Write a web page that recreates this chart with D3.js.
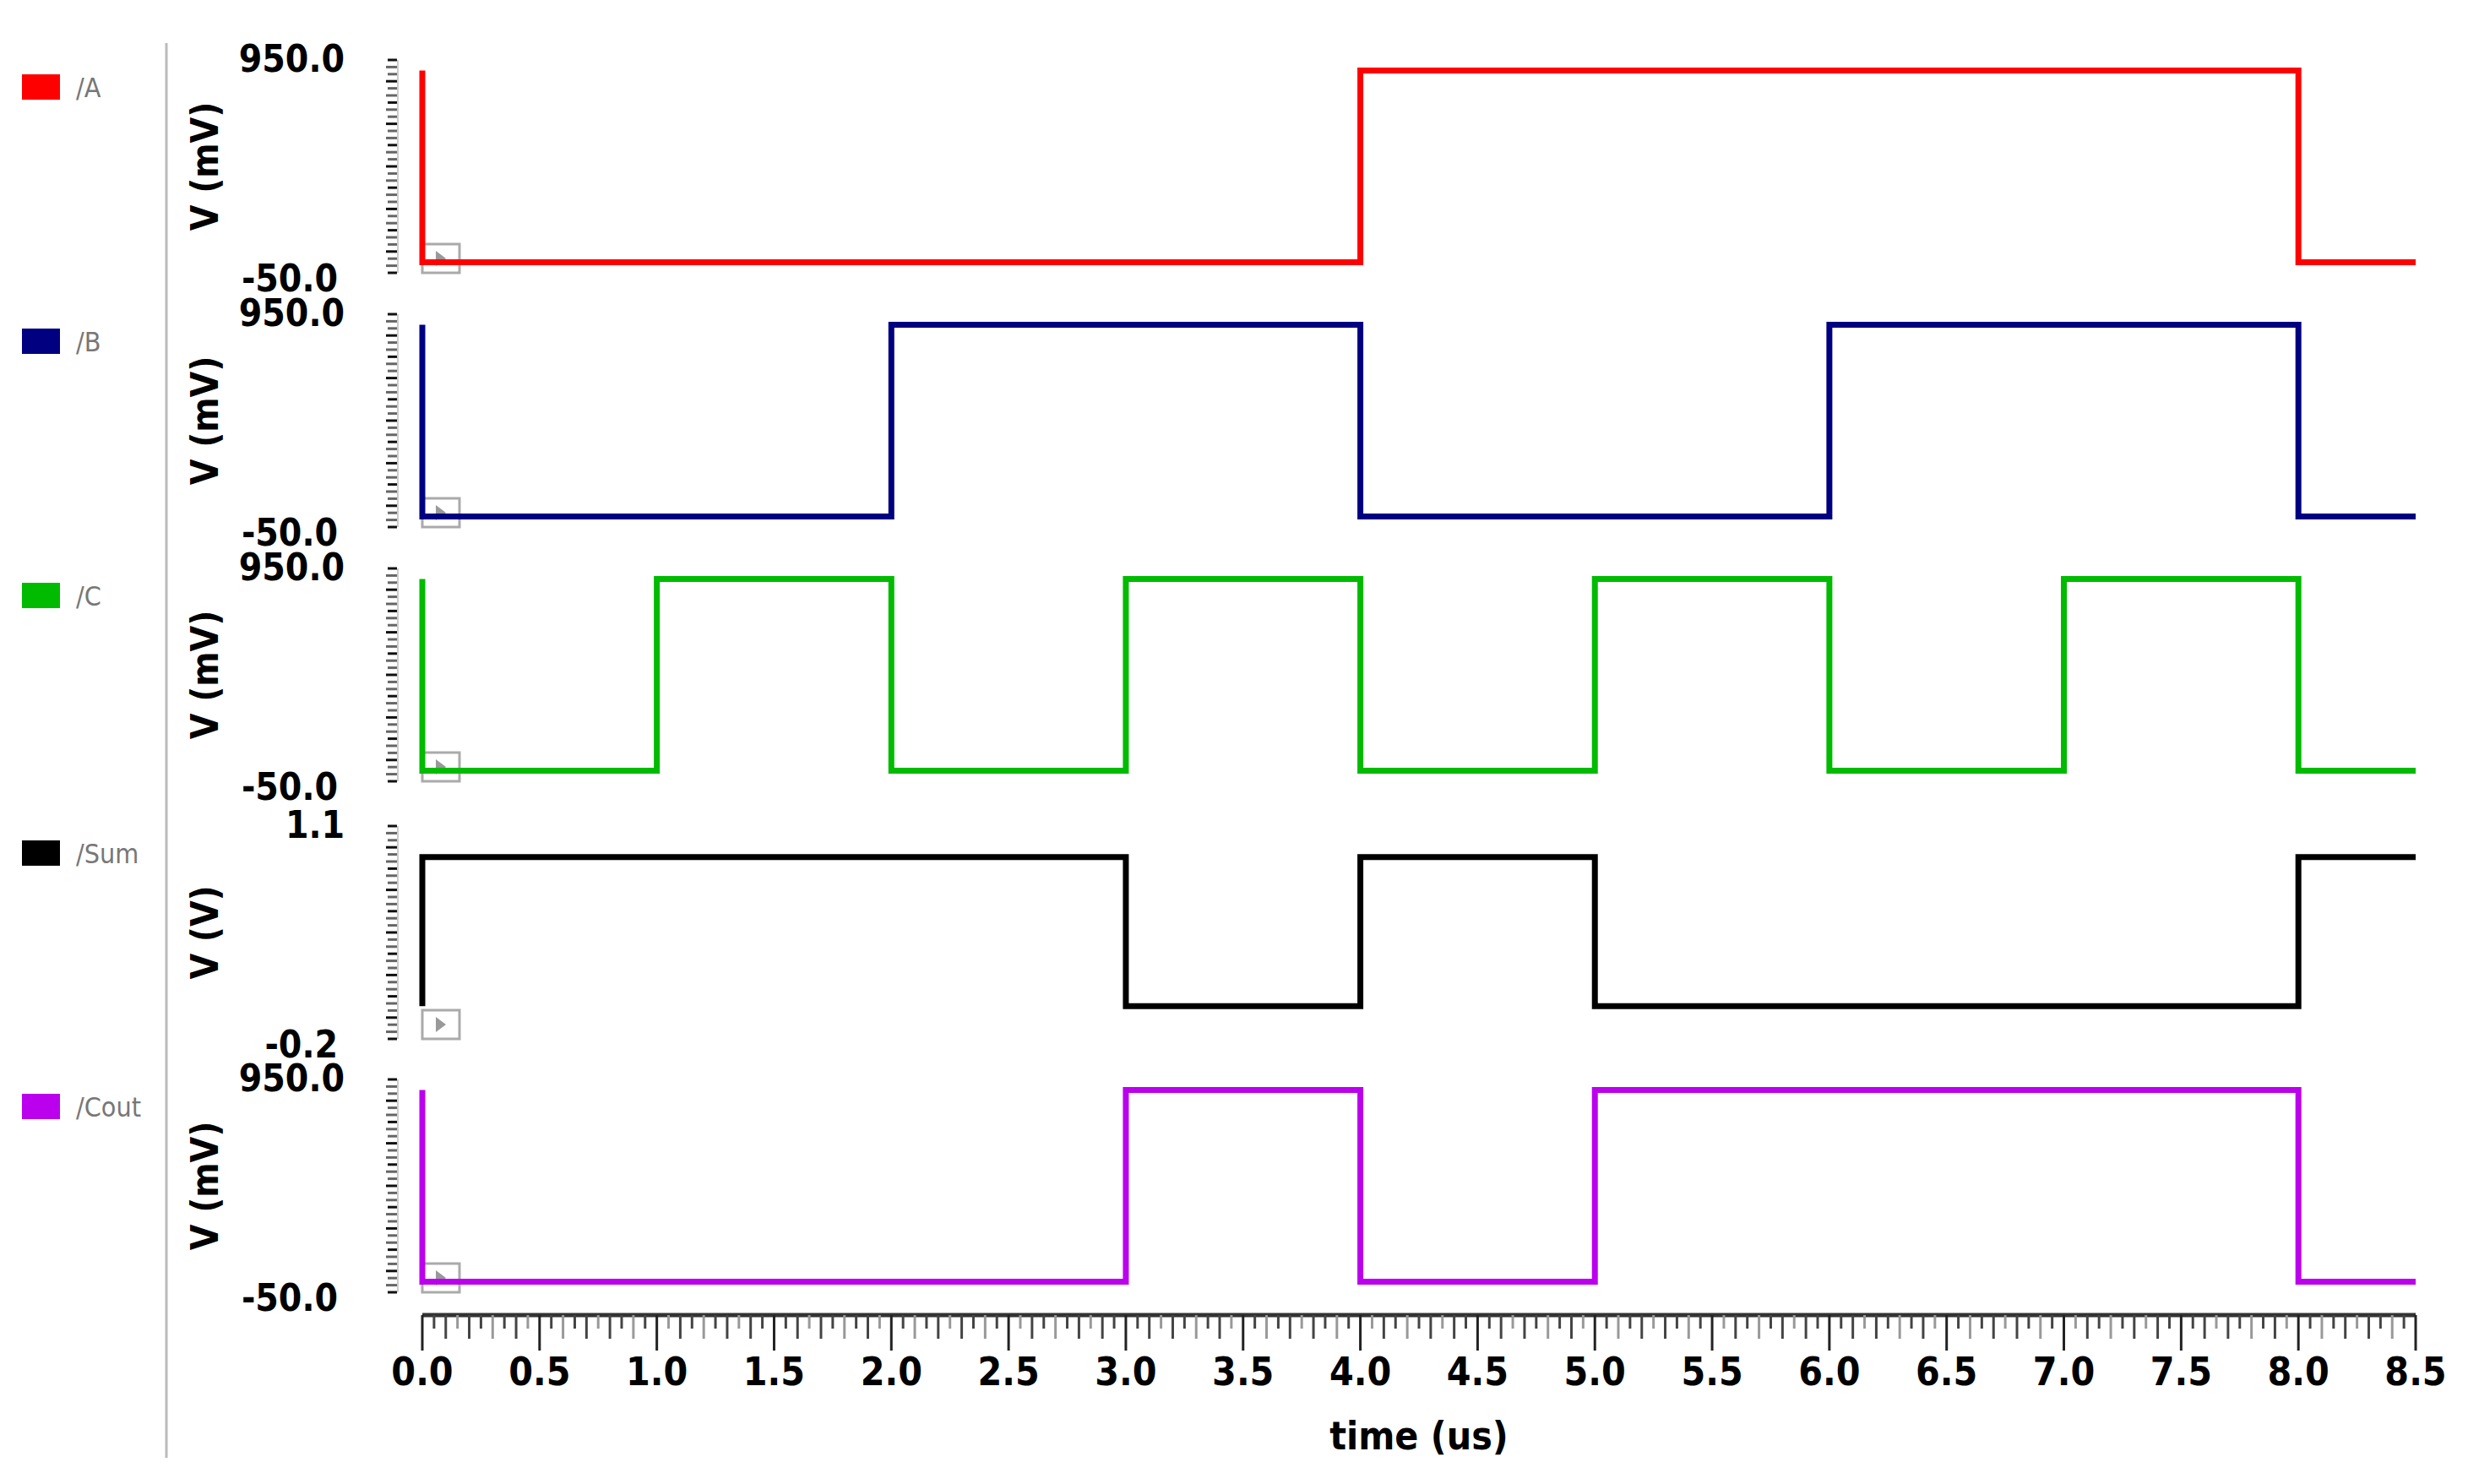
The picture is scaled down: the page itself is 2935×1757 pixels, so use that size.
<!DOCTYPE html>
<html><head><meta charset="utf-8">
<script src="https://cdn.jsdelivr.net/npm/d3@7"></script>
<style>body{margin:0;background:#fff}</style>
</head><body>
<script>
// signal names, colours and step waveforms: [time (us), level]
var names = ["/A", "/B", "/C", "/Sum", "/Cout"];
var colors = ["#ff0000", "#000080", "#00bb00", "#000000", "#bb00ee"];
var units = ["V (mV)", "V (mV)", "V (mV)", "V (V)", "V (mV)"];
var yDomains = [[-50, 950], [-50, 950], [-50, 950], [-0.2, 1.1], [-50, 950]];
var yLabels = [["950.0", "-50.0"], ["950.0", "-50.0"], ["950.0", "-50.0"], ["1.1", "-0.2"], ["950.0", "-50.0"]];
var waveA = [[0, 900], [0, 0], [4, 0], [4, 900], [8, 900], [8, 0], [8.5, 0]];
var waveB = [[0, 900], [0, 0], [2, 0], [2, 900], [4, 900], [4, 0], [6, 0], [6, 900], [8, 900], [8, 0], [8.5, 0]];
var waveC = [[0, 900], [0, 0], [1, 0], [1, 900], [2, 900], [2, 0], [3, 0], [3, 900], [4, 900], [4, 0],
             [5, 0], [5, 900], [6, 900], [6, 0], [7, 0], [7, 900], [8, 900], [8, 0], [8.5, 0]];
var waveSum = [[0, 0], [0, 0.91], [3, 0.91], [3, 0], [4, 0], [4, 0.91], [5, 0.91], [5, 0], [8, 0], [8, 0.91], [8.5, 0.91]];
var waveCout = [[0, 900], [0, 0], [3, 0], [3, 900], [4, 900], [4, 0], [5, 0], [5, 900], [8, 900], [8, 0], [8.5, 0]];
var waves = [waveA, waveB, waveC, waveSum, waveCout];
var xTickLabels = d3.range(0, 18).map(function(i) { return (i * 0.5).toFixed(1); });

var W = 2935, H = 1757;
var panelTops = [71, 372, 673, 978, 1278], panelH = 252;
var svg = d3.select("body").append("svg").attr("width", W).attr("height", H);
var font = "'DejaVu Sans Condensed', 'DejaVu Sans', sans-serif";

var x = d3.scaleLinear().domain([0, 8.5]).range([500, 2860]);

svg.append("line").attr("x1", 197).attr("x2", 197).attr("y1", 51).attr("y2", 1726)
  .attr("stroke", "#bbb").attr("stroke-width", 3);

waves.forEach(function(w, i) {
  var top = panelTops[i];
  var y = d3.scaleLinear().domain(yDomains[i]).range([top + panelH, top]);
  var g = svg.append("g");

  // legend
  g.append("rect").attr("x", 26).attr("y", top + 17).attr("width", 45).attr("height", 30).attr("fill", colors[i]);
  g.append("text").attr("x", 90).attr("y", top + 44).attr("font-family", font).attr("font-size", 32)
    .attr("fill", "#777").text(names[i]);

  // y labels
  g.append("text").attr("x", 408).attr("y", top + 14).attr("text-anchor", "end").attr("font-family", font)
    .attr("font-weight", "bold").attr("font-size", 44).text(yLabels[i][0]);
  g.append("text").attr("x", 400).attr("y", top + panelH + 22).attr("text-anchor", "end").attr("font-family", font)
    .attr("font-weight", "bold").attr("font-size", 44).text(yLabels[i][1]);
  g.append("text").attr("transform", "translate(258," + (top + panelH / 2) + ") rotate(-90)")
    .attr("text-anchor", "middle").attr("font-family", font).attr("font-weight", "bold")
    .attr("font-size", 44).text(units[i]);

  // y minor ticks
  var dom = yDomains[i], n = 30, step = (dom[1] - dom[0]) / n;
  var tv = d3.range(0, n + 1).map(function(k) { return dom[0] + k * step; });
  g.selectAll(".yt").data(tv).enter().append("line")
    .attr("x1", function(d, k) { return k % 2 ? 457 : 459; }).attr("x2", 470)
    .attr("y1", function(d) { return y(d); }).attr("y2", function(d) { return y(d); })
    .attr("stroke", function(d, k) { return k % 3 ? "#666" : "#111"; }).attr("stroke-width", 3);
  g.append("line").attr("x1", 471).attr("x2", 471).attr("y1", y(dom[1])).attr("y2", y(dom[0]))
    .attr("stroke", "#ccc").attr("stroke-width", 2);

  // small marker box
  g.append("rect").attr("x", 500).attr("y", top + panelH - 34).attr("width", 44).attr("height", 34)
    .attr("fill", "none").attr("stroke", "#aaa").attr("stroke-width", 3);
  g.append("path").attr("d", "M516," + (top + panelH - 26) + "l12,9l-12,9z").attr("fill", "#999");

  // waveform
  var line = d3.line().x(function(d) { return x(d[0]); }).y(function(d) { return y(d[1]); });
  g.append("path").datum(w).attr("d", line).attr("fill", "none").attr("stroke", colors[i])
    .attr("stroke-width", 7).attr("stroke-linejoin", "miter");
});

// x axis
var axY = 1557;
svg.append("line").attr("x1", x(0)).attr("x2", x(8.5)).attr("y1", axY).attr("y2", axY)
  .attr("stroke", "#333").attr("stroke-width", 5);
var minor = d3.range(0, 171).map(function(k) { return k * 0.05; });
svg.selectAll(".xt").data(minor).enter().append("line")
  .attr("x1", function(d) { return x(d); }).attr("x2", function(d) { return x(d); })
  .attr("y1", axY).attr("y2", function(d, k) { return axY + (k % 10 === 0 ? 42 : (k % 2 ? 16 : 28)); })
  .attr("stroke", function(d, k) { return k % 10 === 0 ? "#222" : (k % 3 ? "#444" : "#999"); })
  .attr("stroke-width", 3);
svg.selectAll(".xl").data(xTickLabels).enter().append("text")
  .attr("x", function(d) { return x(+d); }).attr("y", 1640).attr("text-anchor", "middle")
  .attr("font-family", font).attr("font-weight", "bold").attr("font-size", 46).text(function(d) { return d; });
svg.append("text").attr("x", x(4.25)).attr("y", 1716).attr("text-anchor", "middle")
  .attr("font-family", font).attr("font-weight", "bold").attr("font-size", 46).text("time (us)");
</script>
</body></html>
